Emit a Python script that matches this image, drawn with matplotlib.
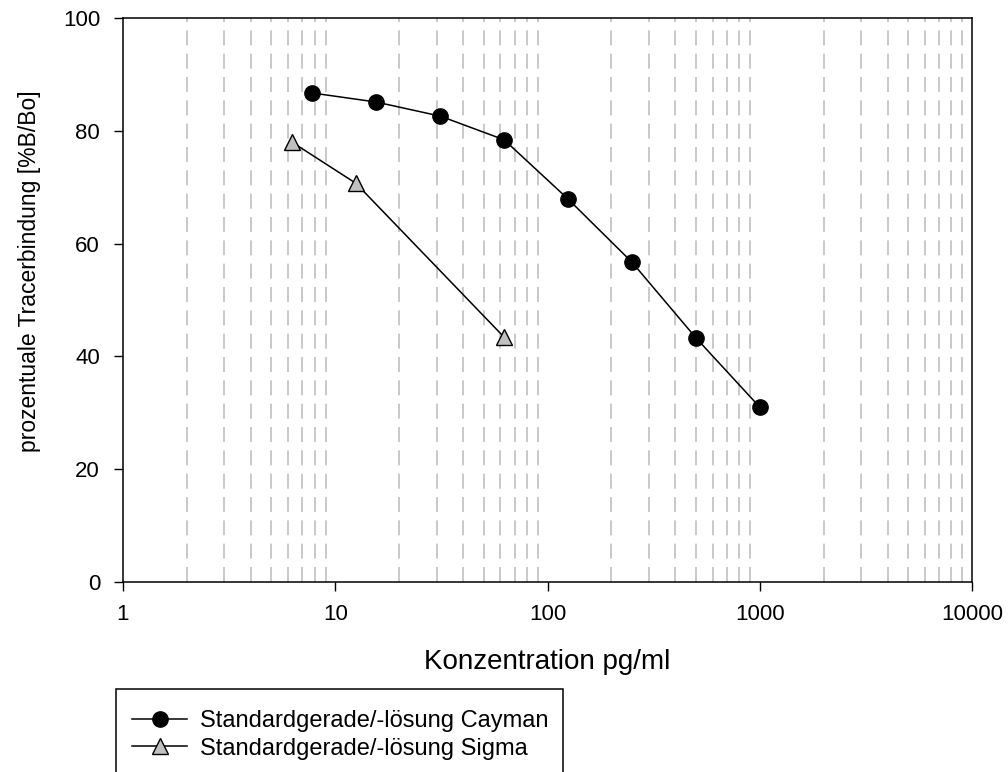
import matplotlib
matplotlib.use("Agg")
import matplotlib.pyplot as plt
from matplotlib.patches import Rectangle
from matplotlib.ticker import FixedLocator, NullFormatter

plt.rcParams['font.family'] = ['Liberation Sans', 'DejaVu Sans']

# Data
cayman_x = [7.8, 15.6, 31.25, 62.5, 125, 250, 500, 1000]
cayman_y = [86.7, 85.1, 82.6, 78.4, 67.9, 56.7, 43.3, 31.0]
sigma_x = [6.25, 12.5, 62.5]
sigma_y = [78.0, 70.7, 43.4]
labels = ["Standardgerade/-lösung Cayman", "Standardgerade/-lösung Sigma"]
xticks = [1, 10, 100, 1000, 10000]
xticklabels = ["1", "10", "100", "1000", "10000"]
yticks = [0, 20, 40, 60, 80, 100]

W, H = 1008, 772
fig = plt.figure(figsize=(W / 100, H / 100), dpi=100)
ax = fig.add_axes([123 / W, 1 - 582 / H, (972 - 123) / W, (582 - 18) / H])

ax.set_xscale('log')
ax.set_xlim(1, 10000)
ax.set_ylim(0, 100)

# minor grid lines (2..9 of each decade)
minors = [m * 10 ** d for d in range(0, 4) for m in range(2, 10)]
ax.xaxis.set_minor_locator(FixedLocator(minors))
ax.xaxis.set_minor_formatter(NullFormatter())
ax.grid(False)
ax.grid(True, which='minor', axis='x', color='#c0c0c0', linestyle=(0, (9, 5)), linewidth=1.2)
ax.tick_params(axis='x', which='minor', length=0)

ax.set_xticks(xticks)
ax.set_xticklabels(xticklabels)
ax.set_yticks(yticks)
ax.tick_params(axis='both', which='major', direction='out', length=6.5, width=1,
               labelsize=16, color='black')
ax.tick_params(axis='x', which='major', pad=9)
ax.tick_params(axis='y', which='major', pad=10)

for s in ax.spines.values():
    s.set_linewidth(1.1)
    s.set_color('black')

l1, = ax.plot(cayman_x, cayman_y, color='black', linewidth=1.1, marker='o',
              markersize=11, markerfacecolor='black', markeredgecolor='black', zorder=3)
l2, = ax.plot(sigma_x, sigma_y, color='black', linewidth=1.1, marker='^',
              markersize=11, markerfacecolor='#c0c0c0', markeredgecolor='black',
              markeredgewidth=1.0, zorder=3)

ax.set_xlabel("Konzentration pg/ml", fontsize=20)
ax.set_ylabel("prozentuale Tracerbindung [%B/Bo]", fontsize=16.5)
ax.xaxis.set_label_coords((547.5 - 123) / (972 - 123), (582 - 662) / (582 - 18), transform=ax.transAxes)
ax.xaxis.label.set_va('center')
ax.yaxis.set_label_coords((30 - 123) / (972 - 123), (582 - 271) / (582 - 18), transform=ax.transAxes)
ax.yaxis.label.set_va('center')

# legend frame (extends past bottom of figure)
fig.patches.append(Rectangle((116 / W, -0.05), (563 - 116) / W, (1 - 689 / H) + 0.05,
                             transform=fig.transFigure, fill=False, edgecolor='black',
                             linewidth=1.1))
fig.legend([l1, l2], labels, loc='center left', bbox_to_anchor=(132 / W, 1 - 735 / H),
           frameon=False, fontsize=17, borderpad=0, borderaxespad=0,
           handlelength=2.35, handletextpad=0.55, labelspacing=0.22)

fig.savefig("out.png", dpi=100)
